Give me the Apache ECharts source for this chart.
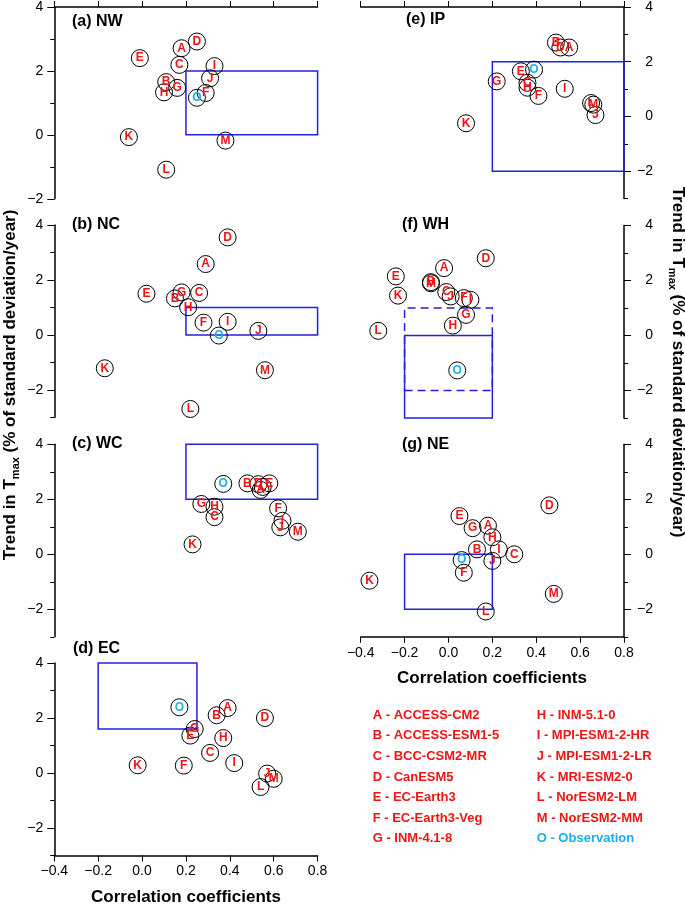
<!DOCTYPE html>
<html>
<head>
<meta charset="utf-8">
<script src="https://cdn.jsdelivr.net/npm/echarts@6/dist/echarts.min.js"></script>
<style>
  html, body { margin: 0; padding: 0; background: #fff; }
  #chart { width: 685px; height: 904px; }
</style>
</head>
<body>
<div id="chart"></div>
<script>
// model letters, same order in every panel (O = observation)
const letters = ['A', 'B', 'C', 'D', 'E', 'F', 'G', 'H', 'I', 'J', 'K', 'L', 'M', 'O'];

// (a) NW
const nwX = [0.18, 0.11, 0.17, 0.25, -0.01, 0.29, 0.16, 0.10, 0.33, 0.31, -0.06, 0.11, 0.38, 0.25];
const nwY = [2.71, 1.65, 2.19, 2.92, 2.40, 1.31, 1.47, 1.33, 2.15, 1.77, -0.07, -1.09, -0.18, 1.16];
// (b) NC
const ncX = [0.29, 0.15, 0.26, 0.39, 0.02, 0.28, 0.18, 0.21, 0.39, 0.53, -0.17, 0.22, 0.56, 0.35];
const ncY = [2.58, 1.33, 1.53, 3.55, 1.50, 0.45, 1.55, 1.01, 0.48, 0.15, -1.21, -2.69, -1.28, -0.02];
// (c) WC
const wcX = [0.54, 0.48, 0.33, 0.53, 0.58, 0.62, 0.27, 0.33, 0.64, 0.63, 0.23, 0.55, 0.71, 0.37];
const wcY = [2.34, 2.58, 1.35, 2.55, 2.58, 1.67, 1.83, 1.73, 1.22, 0.98, 0.36, 2.45, 0.82, 2.56];
// (d) EC
const ecX = [0.39, 0.34, 0.31, 0.56, 0.22, 0.19, 0.24, 0.37, 0.42, 0.57, -0.02, 0.54, 0.60, 0.17];
const ecY = [2.36, 2.10, 0.73, 2.00, 1.36, 0.27, 1.60, 1.27, 0.36, -0.02, 0.28, -0.51, -0.21, 2.39];
// (e) IP
const ipX = [0.55, 0.49, 0.36, 0.51, 0.33, 0.41, 0.22, 0.36, 0.53, 0.67, 0.08, 0.65, 0.66, 0.39];
const ipY = [2.52, 2.70, 1.23, 2.52, 1.65, 0.75, 1.28, 1.05, 1.01, 0.05, -0.25, 0.49, 0.43, 1.71];
// (f) WH
const whX = [-0.02, -0.08, -0.01, 0.17, -0.24, 0.07, 0.08, 0.02, 0.10, 0.01, -0.23, -0.32, -0.08, 0.04];
const whY = [2.45, 1.94, 1.58, 2.81, 2.15, 1.36, 0.75, 0.36, 1.30, 1.42, 1.45, 0.17, 1.90, -1.27];
// (g) NE
const neX = [0.18, 0.13, 0.30, 0.46, 0.05, 0.07, 0.11, 0.20, 0.23, 0.20, -0.36, 0.17, 0.48, 0.06];
const neY = [1.04, 0.18, 0.00, 1.78, 1.39, -0.67, 0.95, 0.62, 0.18, -0.24, -0.96, -2.08, -1.44, -0.21];

// reference boxes [x1, y1, x2, y2, dashed]
const nwBox = [[0.2, 0, 0.8, 2, false]];
const ncBox = [[0.2, 0, 0.8, 1, false]];
const wcBox = [[0.2, 2, 0.8, 4, false]];
const ecBox = [[-0.2, 1.6, 0.25, 4, false]];
const ipBox = [[0.2, -2, 0.8, 2, false]];
const whBox = [[-0.2, -3, 0.2, 0, false], [-0.2, -2, 0.2, 1, true]];
const neBox = [[-0.2, -2, 0.2, 0, false]];

const xMin = -0.4, xMax = 0.8, xStep = 0.2;
const yLabelValues = [-2, 0, 2, 4];

const legendLeft = ['A - ACCESS-CM2', 'B - ACCESS-ESM1-5', 'C - BCC-CSM2-MR', 'D - CanESM5',
  'E - EC-Earth3', 'F - EC-Earth3-Veg', 'G - INM-4.1-8'];
const legendRight = ['H - INM-5.1-0', 'I - MPI-ESM1-2-HR', 'J - MPI-ESM1-2-LR', 'K - MRI-ESM2-0',
  'L - NorESM2-LM', 'M - NorESM2-MM', 'O - Observation'];

const RED = '#f01414';
const CYAN = '#14b2ec';
const BLUE = '#2222dd';
const FONT = 'Liberation Sans, Arial, Helvetica, sans-serif';

const panels = [
  {title: '(a) NW', xs: nwX, ys: nwY, box: nwBox, side: 'left', top: 6.3, yMin: -2, xPos: 'top', tx: 72, ty: 23},
  {title: '(b) NC', xs: ncX, ys: ncY, box: ncBox, side: 'left', top: 225, yMin: -3, xPos: null, tx: 72, ty: 226},
  {title: '(c) WC', xs: wcX, ys: wcY, box: wcBox, side: 'left', top: 444.3, yMin: -3, xPos: null, tx: 72, ty: 445},
  {title: '(d) EC', xs: ecX, ys: ecY, box: ecBox, side: 'left', top: 663, yMin: -3, xPos: 'bottom', tx: 73, ty: 650},
  {title: '(e) IP', xs: ipX, ys: ipY, box: ipBox, side: 'right', top: 6, yMin: -3, xPos: 'top', tx: 406, ty: 21},
  {title: '(f) WH', xs: whX, ys: whY, box: whBox, side: 'right', top: 225.5, yMin: -3, xPos: null, tx: 402, ty: 226},
  {title: '(g) NE', xs: neX, ys: neY, box: neBox, side: 'right', top: 444.3, yMin: -3, xPos: 'bottom', tx: 402, ty: 446}
];

const fmtNum = (v, digits) => {
  const r = Math.round(v * 10) / 10;
  const s = Math.abs(r).toFixed(digits);
  return r < 0 ? '\u2212' + s : s;
};

const grids = [], xAxes = [], yAxes = [], series = [], graphics = [];

panels.forEach((p, i) => {
  const left = p.side === 'left' ? 54.3 : 360.7;
  grids.push({left: left, top: p.top, width: 263.3, height: 192.5});

  const showX = p.xPos !== null;
  xAxes.push({
    type: 'value', gridIndex: i, min: xMin, max: xMax, interval: xStep,
    position: p.xPos || 'bottom',
    axisLine: {show: showX, onZero: false, lineStyle: {color: '#000', width: 1.5}},
    axisTick: {show: showX, length: 6, lineStyle: {color: '#000', width: 1}},
    axisLabel: {
      show: p.xPos === 'bottom', margin: 9, color: '#000', fontSize: 14, fontFamily: FONT,
      formatter: v => fmtNum(v, 1)
    },
    splitLine: {show: false}
  });

  // main y axis: line + small tick at every unit
  yAxes.push({
    type: 'value', gridIndex: i, min: p.yMin, max: 4, interval: 1, position: p.side,
    axisLine: {show: true, onZero: false, lineStyle: {color: '#000', width: 1.5}},
    axisTick: {show: true, length: 4, lineStyle: {color: '#000', width: 1}},
    axisLabel: {show: false},
    splitLine: {show: false}
  });
  // overlay y axis: long ticks and labels at even values
  yAxes.push({
    type: 'value', gridIndex: i, min: p.yMin, max: 4, interval: 1, position: p.side,
    axisLine: {show: false, onZero: false},
    axisTick: {show: true, length: 7, customValues: yLabelValues, lineStyle: {color: '#000', width: 1}},
    axisLabel: {
      show: true, customValues: yLabelValues, color: '#000', fontSize: 14, fontFamily: FONT,
      align: 'right', margin: p.side === 'left' ? 11 : 29,
      formatter: v => fmtNum(v, 0)
    },
    splitLine: {show: false}
  });

  const data = letters.map((L, k) => ({
    value: [p.xs[k], p.ys[k]],
    name: L,
    label: {color: L === 'O' ? CYAN : RED}
  }));

  series.push({
    type: 'scatter', xAxisIndex: i, yAxisIndex: 2 * i,
    symbol: 'circle', symbolSize: 17,
    itemStyle: {color: 'rgba(255,255,255,0)', borderColor: '#000', borderWidth: 1, opacity: 1},
    label: {
      show: true, position: 'inside', formatter: '{b}',
      fontSize: 12, fontWeight: 'bold', fontFamily: FONT
    },
    emphasis: {disabled: true},
    data: data,
    markArea: {
      silent: true,
      label: {show: false},
      data: p.box.map(b => [
        {xAxis: b[0], yAxis: b[1], itemStyle: {
          color: 'rgba(0,0,0,0)', borderColor: BLUE, borderWidth: 1.5,
          borderType: b[4] ? [8, 5] : 'solid'
        }},
        {xAxis: b[2], yAxis: b[3]}
      ])
    }
  });

  graphics.push({
    type: 'text', left: p.tx, top: p.ty - 9,
    style: {text: p.title, fontSize: 16, fontWeight: 'bold', fontFamily: FONT, fill: '#000'}
  });
});

// axis titles
const ytitleRich = {
  n: {fontSize: 17, fontWeight: 'bold', fontFamily: FONT, lineHeight: 22},
  s: {fontSize: 11, fontWeight: 'bold', fontFamily: FONT, lineHeight: 12, verticalAlign: 'bottom'}
};
const ytitle = '{n|Trend in T}{s|max}{n| (% of standard deviation/year)}';
graphics.push({
  type: 'text', x: 10, y: 385, rotation: Math.PI / 2,
  style: {text: ytitle, rich: ytitleRich, align: 'center', verticalAlign: 'middle', fill: '#000'}
});
graphics.push({
  type: 'text', x: 678, y: 362, rotation: -Math.PI / 2,
  style: {text: ytitle, rich: ytitleRich, align: 'center', verticalAlign: 'middle', fill: '#000'}
});
graphics.push({
  type: 'text', x: 186, y: 897,
  style: {text: 'Correlation coefficients', fontSize: 17, fontWeight: 'bold', fontFamily: FONT,
    align: 'center', verticalAlign: 'middle', fill: '#000'}
});
graphics.push({
  type: 'text', x: 492, y: 678,
  style: {text: 'Correlation coefficients', fontSize: 17, fontWeight: 'bold', fontFamily: FONT,
    align: 'center', verticalAlign: 'middle', fill: '#000'}
});

// model list
legendLeft.forEach((t, k) => {
  graphics.push({
    type: 'text', x: 372.7, y: 715 + k * 20.65,
    style: {text: t, fontSize: 13, fontWeight: 'bold', fontFamily: FONT, fill: RED, verticalAlign: 'middle'}
  });
});
legendRight.forEach((t, k) => {
  graphics.push({
    type: 'text', x: 536.7, y: 715 + k * 20.65,
    style: {text: t, fontSize: 13, fontWeight: 'bold', fontFamily: FONT,
      fill: t.charAt(0) === 'O' ? CYAN : RED, verticalAlign: 'middle'}
  });
});

const chart = echarts.init(document.getElementById('chart'), null, {renderer: 'canvas'});
chart.setOption({
  animation: false,
  backgroundColor: '#fff',
  grid: grids,
  xAxis: xAxes,
  yAxis: yAxes,
  series: series,
  graphic: graphics
});
</script>
</body>
</html>
